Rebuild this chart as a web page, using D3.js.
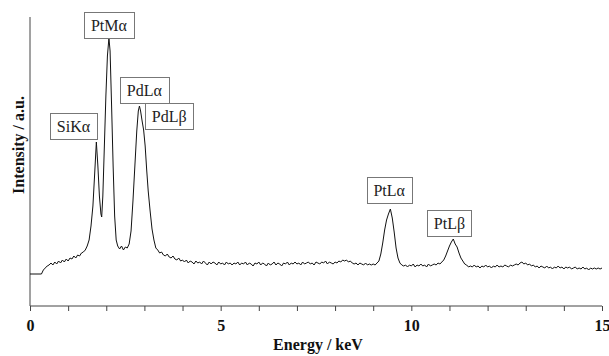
<!DOCTYPE html>
<html><head><meta charset="utf-8">
<script src="https://cdn.jsdelivr.net/npm/d3@7"></script>
<style>
html,body{margin:0;padding:0;background:#fff;}
svg{display:block;}
</style></head>
<body>
<svg id="chart" width="609" height="356"></svg>
<script>
// ---- data ----
const energy = [
 0.00,0.30,0.35,0.40,0.45,0.50,0.55,0.60,0.65,0.70,0.75,0.80,0.85,0.90,0.95,1.00,1.05,1.10,1.15,1.20,1.25,1.30,1.35,1.40,1.45,
 1.50,1.55,1.60,1.65,1.70,1.74,1.78,1.82,1.86,1.88,1.91,1.95,1.99,2.03,2.07,2.10,2.14,2.18,2.22,2.26,2.30,2.35,2.40,2.45,2.50,
 2.55,2.60,2.65,2.70,2.75,2.80,2.84,2.87,2.90,2.94,2.98,3.02,3.06,3.10,3.15,3.20,3.25,3.30,3.35,3.40,3.45,3.50,3.55,3.60,3.65,
 3.70,3.75,3.80,3.85,3.90,3.95,4.00,4.05,4.10,4.15,4.20,4.25,4.30,4.35,4.40,4.45,4.50,4.55,4.60,4.65,4.70,4.75,4.80,4.85,4.90,
 4.95,5.00,5.05,5.10,5.15,5.20,5.25,5.30,5.35,5.40,5.45,5.50,5.55,5.60,5.65,5.70,5.75,5.80,5.85,5.90,5.95,6.00,6.05,6.10,6.15,
 6.20,6.25,6.30,6.35,6.40,6.45,6.50,6.55,6.60,6.65,6.70,6.75,6.80,6.85,6.90,6.95,7.00,7.05,7.10,7.15,7.20,7.25,7.30,7.35,7.40,
 7.45,7.50,7.55,7.60,7.65,7.70,7.75,7.80,7.85,7.90,7.95,8.00,8.05,8.10,8.15,8.20,8.25,8.30,8.35,8.40,8.45,8.50,8.55,8.60,8.65,
 8.70,8.75,8.80,8.85,8.90,8.95,9.00,9.05,9.10,9.15,9.20,9.25,9.30,9.35,9.40,9.45,9.50,9.55,9.60,9.65,9.70,9.75,9.80,9.85,9.90,
 9.95,10.00,10.05,10.10,10.15,10.20,10.25,10.30,10.35,10.40,10.45,10.50,10.55,10.60,10.65,10.70,10.75,10.80,10.85,10.90,10.95,11.00,11.05,11.10,11.15,
 11.20,11.25,11.30,11.35,11.40,11.45,11.50,11.55,11.60,11.65,11.70,11.75,11.80,11.85,11.90,11.95,12.00,12.05,12.10,12.15,12.20,12.25,12.30,12.35,12.40,
 12.45,12.50,12.55,12.60,12.65,12.70,12.75,12.80,12.85,12.90,12.95,13.00,13.05,13.10,13.15,13.20,13.25,13.30,13.35,13.40,13.45,13.50,13.55,13.60,13.65,
 13.70,13.75,13.80,13.85,13.90,13.95,14.00,14.05,14.10,14.15,14.20,14.25,14.30,14.35,14.40,14.45,14.50,14.55,14.60,14.65,14.70,14.75,14.80,14.85,14.90,
 14.95,15.00
];
const intensity = [
 32,32,36,38,40,41,43,41,44,42,45,43,46,44,47,45,48,47,50,48,51,50,53,54,56,
 60,66,80,100,135,164,140,110,92,89,110,160,210,250,268,255,200,140,90,66,60,57,60,56,59,
 58,62,75,105,140,175,195,200,195,185,176,160,136,115,95,77,66,58,56,53,54,51,50,52,49,
 48,50,47,46,48,45,46,44,46,43,45,44,42,45,43,44,42,45,43,41,44,42,44,43,41,
 44,42,43,41,44,42,43,41,43,42,44,41,43,42,44,41,43,42,40,43,42,44,41,43,42,
 40,43,41,42,44,41,43,42,40,43,42,44,41,43,42,44,42,43,41,44,42,43,44,42,43,
 41,44,43,42,44,43,45,42,44,43,42,44,43,45,44,46,45,46,44,45,43,42,43,41,43,
 42,41,43,41,42,41,42,41,43,45,52,63,76,86,92,97,88,74,58,48,43,41,40,41,39,
 41,40,42,39,41,40,42,40,41,39,42,40,41,42,41,43,42,44,46,50,55,60,64,67,62,
 59,53,48,45,42,41,39,40,39,41,39,40,38,40,39,41,39,40,38,40,39,41,39,40,39,
 41,40,39,41,40,41,42,41,43,44,42,43,41,42,40,41,39,40,38,40,39,38,40,38,39,
 37,39,38,40,38,39,37,39,38,39,37,38,39,37,38,37,39,37,38,36,38,37,38,37,38,
 37,38
];
const xTickValues = [0, 5, 10, 15];
const xMinorTicks = [0,1,2,3,4,5,6,7,8,9,10,11,12,13,14,15];
const peakNames = ["SiKα", "PtMα", "PdLα", "PdLβ", "PtLα", "PtLβ"];
// label box centres in data units (keV, intensity)
const labelEnergy = [1.14, 2.07, 3.00, 3.65, 9.42, 11.00];
const labelIntensity = [180, 281, 216, 190, 116, 83];

// ---- layout ----
const svg = d3.select("#chart");
const x = d3.scaleLinear().domain([0, 15]).range([30, 602]);
const y = d3.scaleLinear().domain([0, 289]).range([306, 17]);
const serif = "'Liberation Serif','Times New Roman',serif";

// axes
const xAxis = svg.append("g").attr("transform", "translate(0,306)")
  .call(d3.axisBottom(x).tickValues(xMinorTicks).tickSize(5).tickFormat(""));
xAxis.select(".domain").attr("stroke", "#444").attr("d", `M${x(0)},0H${x(15)}`);
xAxis.selectAll(".tick line").attr("stroke", "#444");

const xLabels = svg.append("g").attr("transform", "translate(0,306)")
  .call(d3.axisBottom(x).tickValues(xTickValues).tickSize(0).tickPadding(14).tickFormat(d3.format("d")));
xLabels.select(".domain").remove();
xLabels.selectAll("text").attr("font-family", serif).attr("font-weight", "bold")
  .attr("font-size", 16).attr("fill", "#111");

const yAxis = svg.append("g").attr("transform", "translate(30,0)")
  .call(d3.axisLeft(y).tickValues([]).tickSize(0));
yAxis.select(".domain").attr("stroke", "#444").attr("d", `M0,${y(289)}V${y(0)}`);

// spectrum
const pts = energy.map((e, i) => [e, intensity[i]]);
svg.append("path").datum(pts)
  .attr("fill", "none").attr("stroke", "#111").attr("stroke-width", 1)
  .attr("stroke-linejoin", "round")
  .attr("d", d3.line().x(d => x(d[0])).y(d => y(d[1])));

// titles
svg.append("text").attr("x", 318).attr("y", 350).attr("text-anchor", "middle")
  .attr("font-family", serif).attr("font-weight", "bold").attr("font-size", 16).attr("fill", "#111")
  .text("Energy / keV");
svg.append("text").attr("transform", "translate(24,145) rotate(-90)").attr("text-anchor", "middle")
  .attr("font-family", serif).attr("font-weight", "bold").attr("font-size", 16).attr("fill", "#111")
  .text("Intensity / a.u.");

// peak labels
peakNames.forEach((name, i) => {
  const cx = x(labelEnergy[i]), cy = y(labelIntensity[i]);
  const g = svg.append("g");
  const rect = g.append("rect").attr("fill", "#fff").attr("stroke", "#777").attr("stroke-width", 1);
  const t = g.append("text").attr("x", cx).attr("y", cy + 5.5).attr("text-anchor", "middle")
    .attr("font-family", serif).attr("font-size", 16).attr("fill", "#222").text(name);
  const bb = t.node().getBBox();
  const w = bb.width + 13, h = 26;
  rect.attr("x", Math.round(cx - w / 2) + 0.5).attr("y", Math.round(cy - h / 2) + 0.5)
    .attr("width", Math.round(w)).attr("height", h);
});
</script>
</body></html>
